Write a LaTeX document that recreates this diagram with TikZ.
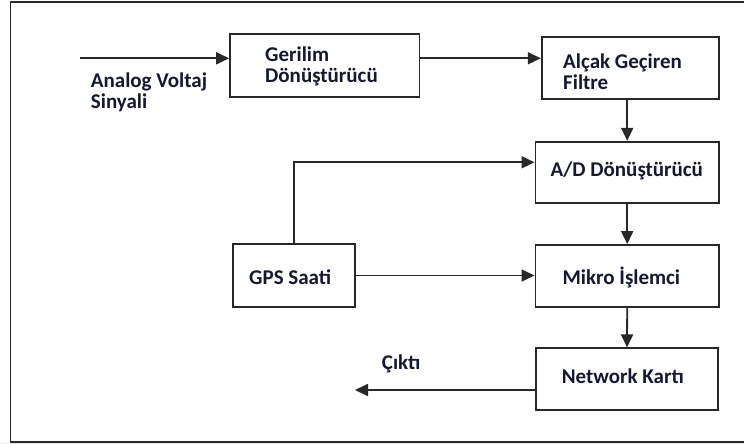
\documentclass[tikz,border=0pt]{standalone}
\usepackage{fontspec}
\setmainfont{Carlito}
\usetikzlibrary{arrows.meta,calc}
\definecolor{linegray}{RGB}{40,40,40}
\definecolor{inkblue}{RGB}{22,24,48}
\begin{document}
\begin{tikzpicture}[x=1pt,y=-1pt,
  box/.style={draw=linegray,line width=1.8pt,inner sep=0pt,fill=white},
  txt/.style={anchor=west,inner sep=0pt,align=left,text=inkblue,
    font=\fontsize{21}{20.5}\selectfont\bfseries},
  arr/.style={draw=linegray,line width=1.8pt,
    -{Triangle[length=13pt,width=12pt]}},
  wire/.style={draw=linegray,line width=1.8pt}]
\useasboundingbox (0,0) rectangle (744,444);
% frame
\fill[black!8] (0,442.5) rectangle (744,444);
\draw[line width=1.8pt,draw=linegray] (10.4,1.7) rectangle (746,441.7);

% blocks
\node[box,minimum width=189.5pt,minimum height=62.7pt] (ger) at (324.75,65.35) {};
\node[box,minimum width=177.3pt,minimum height=62.6pt] (alc) at (630.35,68) {};
\node[box,minimum width=183.6pt,minimum height=61.6pt] (ad)  at (627.2,172.5) {};
\node[box,minimum width=122.3pt,minimum height=62.4pt] (gps) at (293.85,275.5) {};
\node[box,minimum width=183.6pt,minimum height=61.7pt] (mik) at (627.2,275.85) {};
\node[box,minimum width=182.6pt,minimum height=61.7pt] (net) at (627,379.15) {};

% block labels
\node[txt] (gert) at (265,66.5) {Gerilim\\Dönüştürücü};
\node[txt] (alct) at (563,71.9) {Alçak Geçiren\\Filtre};
\node[txt] (adt)  at (550.5,171) {A/D Dönüştürücü};
\node[txt] (gpst) at (249,277) {GPS Saati};
\node[txt] (mikt) at (562.4,277) {Mikro İşlemci};
\node[txt] (nett) at (561.7,376) {Network Kartı};

% free labels
\node[txt] (inlab)  at (90.7,92.5) {Analog Voltaj\\Sinyali};
\node[txt] (outlab) at (381.7,363.5) {Çıktı};

% connector ends
\coordinate (in)   at (80,58.3);
\coordinate (adin) at (0,162.3);
\coordinate (out)  at (355,390);

% connectors
\draw[arr] (in) -- (in -| ger.west);
\draw[arr] (ger.east |- in) -- (alc.west |- in);
\draw[arr] (ad.north |- alc.south) -- (ad.north);
\draw[arr] (gps.north) |- (ad.west |- adin);
\draw[arr] (gps.east) -- (gps.east -| mik.west);
\draw[arr] (ad.south) -- (mik.north);
\draw[arr] (mik.south) -- (net.north);
\draw[arr] (net.west |- out) -- (out);
\end{tikzpicture}
\end{document}
